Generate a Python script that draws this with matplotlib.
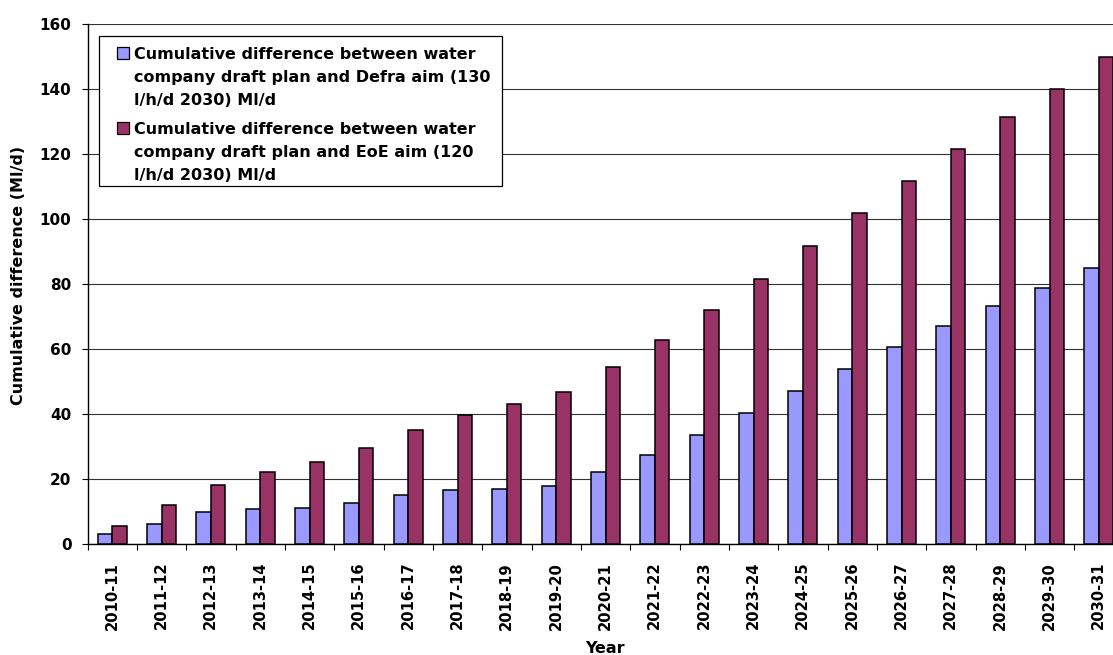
import matplotlib
matplotlib.use("Agg")
import matplotlib.pyplot as plt
from matplotlib.patches import Rectangle
import numpy as np

plt.rcParams['font.family'] = ['DejaVu Sans']
plt.rcParams['font.weight'] = 'bold'

years = ["2010-11", "2011-12", "2012-13", "2013-14", "2014-15", "2015-16",
         "2016-17", "2017-18", "2018-19", "2019-20", "2020-21", "2021-22",
         "2022-23", "2023-24", "2024-25", "2025-26", "2026-27", "2027-28",
         "2028-29", "2029-30", "2030-31"]

defra_diff = [3.0, 6.2, 9.8, 10.9, 11.2, 12.6, 15.2, 16.6, 16.9, 17.8, 22.3,
              27.4, 33.5, 40.2, 47.0, 53.8, 60.6, 67.1, 73.3, 78.9, 84.9]

eoe_diff = [5.6, 11.9, 18.2, 22.2, 25.3, 29.6, 35.2, 39.7, 43.0, 46.9, 54.5,
            62.8, 72.0, 81.7, 91.8, 101.9, 111.9, 121.7, 131.4, 140.2, 149.8]

legend_lines = [
    ["Cumulative difference between water",
     "company draft plan and Defra aim (130",
     "l/h/d 2030) Ml/d"],
    ["Cumulative difference between water",
     "company draft plan and EoE aim (120",
     "l/h/d 2030) Ml/d"],
]

y_ticks = [0, 20, 40, 60, 80, 100, 120, 140, 160]

blue = "#9999FF"
maroon = "#993366"

W, H = 1113, 655
fig = plt.figure(figsize=(W / 100, H / 100), dpi=100)


def fx(px):
    return px / W


def fy(py):
    return 1 - py / H


# plot area: left spine at x=87.5 px, zero line at y=544 px, top at 24.3 px
left, right, top, bottom = 87.5, 1123.5, 24.3, 544.0
ax = fig.add_axes([fx(left), fy(bottom), (right - left) / W, (bottom - top) / H])

x = np.arange(len(years))
bw = 0.292
ax.bar(x - bw, defra_diff, width=bw, align='edge', color=blue,
       edgecolor='black', linewidth=1.1, zorder=3)
ax.bar(x, eoe_diff, width=bw, align='edge', color=maroon,
       edgecolor='black', linewidth=1.1, zorder=3)

ax.set_xlim(-0.5, len(years) - 0.5)
ax.set_ylim(0, 160)
ax.set_yticks(y_ticks)
ax.set_yticklabels([str(v) for v in y_ticks], fontsize=11, fontweight='bold')
ax.yaxis.grid(True, color='#333333', linewidth=0.8, zorder=0)
ax.set_axisbelow(True)

ax.set_xticks(x)
ax.set_xticklabels(years, rotation=90, fontsize=10.6, fontweight='bold')
ax.set_xticks(np.arange(len(years) + 1) - 0.5, minor=True)
ax.tick_params(axis='x', which='major', length=0, pad=12.8)
ax.tick_params(axis='x', which='minor', length=4.3, width=0.8, color='black')
ax.tick_params(axis='y', length=4.5, width=0.8, pad=7, color='black')

for side in ('top', 'right'):
    ax.spines[side].set_visible(False)
for side in ('left', 'bottom'):
    ax.spines[side].set_color('black')
    ax.spines[side].set_linewidth(1.0)

ax.set_xlabel("Year", fontsize=11.5, fontweight='bold')
ax.xaxis.set_label_coords(0.5, (bottom - 641) / (bottom - top))
ax.set_ylabel("Cumulative difference (Ml/d)", fontsize=11.5, fontweight='bold')
ax.yaxis.set_label_coords((26 - left) / (right - left), (bottom - 275) / (bottom - top))

# legend box
box_l, box_t, box_r, box_b = 99, 36, 502, 185.7
fig.patches.append(Rectangle((fx(box_l), fy(box_b)), (box_r - box_l) / W,
                             (box_b - box_t) / H, transform=fig.transFigure,
                             facecolor='white', edgecolor='black',
                             linewidth=0.9, zorder=5))
entry_tops = [47.3, 121.8]
line_step = 23.0
for top_px, lines, col in zip(entry_tops, legend_lines, [blue, maroon]):
    fig.patches.append(Rectangle((fx(116.5), fy(top_px + 12)), 12.5 / W, 12 / H,
                                 transform=fig.transFigure, facecolor=col,
                                 edgecolor='black', linewidth=0.9, zorder=6))
    for k, line in enumerate(lines):
        fig.text(fx(134.5), fy(top_px + 12 + k * line_step), line,
                 fontsize=11.5, fontweight='bold', ha='left', va='baseline',
                 zorder=7)

fig.savefig("out.png", dpi=100)
